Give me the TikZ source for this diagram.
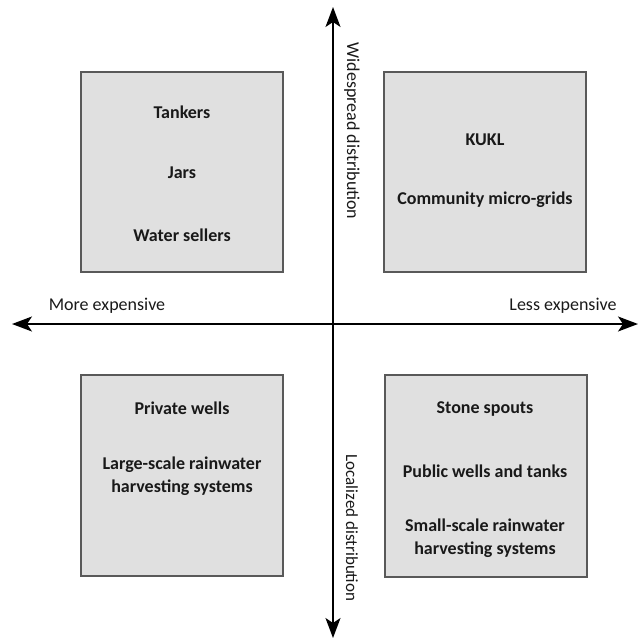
\documentclass[tikz,border=0pt]{standalone}
\usepackage{fontspec}
\setmainfont{Carlito}
\usetikzlibrary{arrows.meta}
\begin{document}
\begin{tikzpicture}[x=1pt,y=-1pt,
  quad/.style={draw=black!65,line width=1.2pt,fill=black!12},
  axis/.style={line width=1.8pt,-{Stealth[length=20pt,width=15pt,inset=5pt]}},
  item/.style={font=\fontsize{18}{23.5}\selectfont\bfseries,align=center,text=black!90},
  axlabel/.style={font=\fontsize{18}{21}\selectfont,text=black!90}]
\useasboundingbox (0,0) rectangle (638,638);
% quadrant boxes
\draw[quad] (81,72) rectangle (283,272);
\draw[quad] (384,72) rectangle (586,272);
\draw[quad] (81,375) rectangle (283,576);
\draw[quad] (385,375) rectangle (587,577);
% axes
\coordinate (c) at (333,324);
\coordinate (w) at (12,324);
\coordinate (e) at (638,324);
\coordinate (n) at (333,7);
\coordinate (s) at (333,638);
\draw[axis] (c) -- (w);
\draw[axis] (c) -- (e);
\draw[axis] (c) -- (n);
\draw[axis] (c) -- (s);
% axis labels
\node[axlabel] (more) at (107,306) {More expensive};
\node[axlabel] (less) at (563,306) {Less expensive};
\node[axlabel,rotate=-90] (wide) at (352,131) {Widespread distribution};
\node[axlabel,rotate=-90,font=\fontsize{17}{20}\selectfont] (local) at (352,528) {Localized distribution};
% quadrant contents
\node[item] (tank) at (182,112) {Tankers};
\node[item] (jars) at (182,173) {Jars};
\node[item] (sell) at (182,235) {Water sellers};
\node[item] (kukl) at (485,140) {KUKL};
\node[item] (grid) at (485,200) {Community micro-grids};
\node[item] (priv) at (182,408) {Private wells};
\node[item] (large) at (182,476) {Large-scale rainwater\\harvesting systems};
\node[item] (stone) at (485,409) {Stone spouts};
\node[item] (pub) at (485,471) {Public wells and tanks};
\node[item] (small) at (485,538) {Small-scale rainwater\\harvesting systems};
\end{tikzpicture}
\end{document}
